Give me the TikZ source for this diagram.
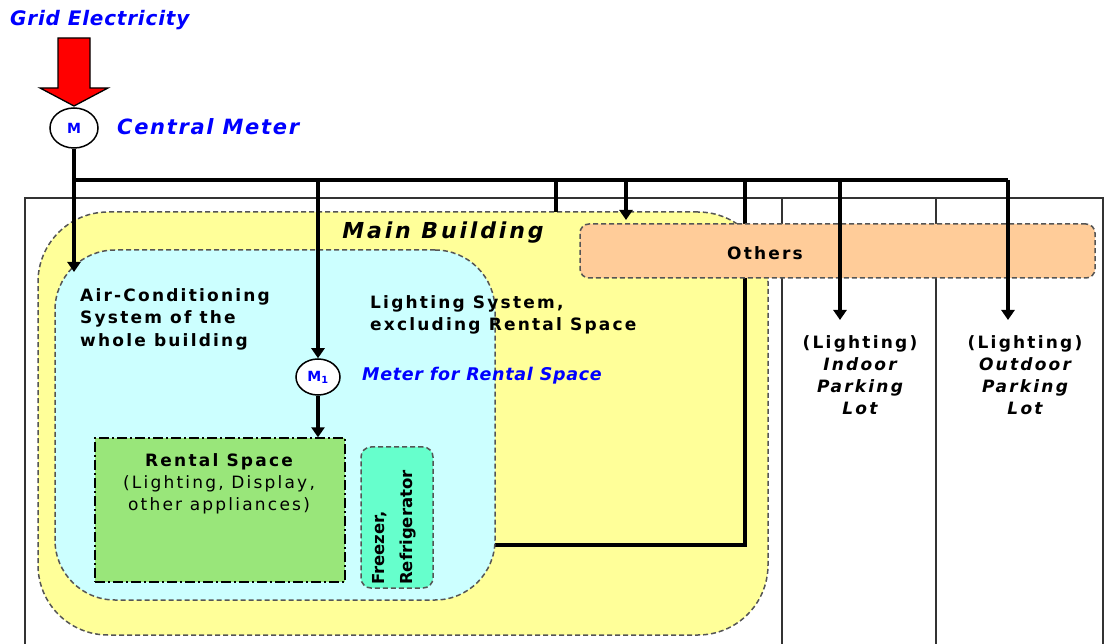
\documentclass[tikz,border=0pt]{standalone}
\usepackage{fontspec}
\setmainfont{DejaVu Sans}
\newfontfamily\wide[LetterSpace=13]{DejaVu Sans}
\newfontfamily\bluefont[LetterSpace=4]{DejaVu Sans}
\newfontfamily\bluewide[LetterSpace=8]{DejaVu Sans}
\usetikzlibrary{arrows.meta,shapes.geometric}
\definecolor{myyellow}{HTML}{FFFF99}
\definecolor{mycyan}{HTML}{CCFFFF}
\definecolor{myorange}{HTML}{FFCC99}
\definecolor{mygreen}{HTML}{99E67A}
\definecolor{myaqua}{HTML}{66FFCC}
\definecolor{dashgray}{HTML}{555555}
\definecolor{myblue}{HTML}{0000FF}
\tikzset{
  bus/.style={line width=3.2pt, black},
  busarrow/.style={bus, -{Triangle[width=13pt,length=10pt]}},
  frameline/.style={line width=1.5pt, black!80},
  region/.style={draw=dashgray, line width=1.5pt, dash pattern=on 5pt off 3pt},
  lbl/.style={font=\wide\bfseries\fontsize{17}{22.5}\selectfont, inner sep=0pt, align=left},
  lblc/.style={font=\wide\bfseries\fontsize{17}{22}\selectfont, inner sep=0pt, align=center},
  bluelbl/.style={font=\bluefont\bfseries\itshape\fontsize{20}{22}\selectfont, text=myblue, inner sep=0pt},
  meter/.style={draw, ellipse, line width=1.5pt, fill=white, inner sep=0pt,
     font=\bfseries\fontsize{14}{14}\selectfont, text=myblue}
}
\begin{document}
\begin{tikzpicture}[x=1pt,y=-1pt]
\useasboundingbox (0,0) rectangle (1104,644);
% outer frame
\coordinate (f1) at (25,650);
\coordinate (f2) at (25,198);
\coordinate (f3) at (1103,198);
\coordinate (f4) at (1103,650);
\draw[frameline] (f1) -- (f2) -- (f3) -- (f4);
\coordinate (d1t) at (782,198); \coordinate (d1b) at (782,650);
\coordinate (d2t) at (936,198); \coordinate (d2b) at (936,650);
\draw[frameline] (d1t) -- (d1b);
\draw[frameline] (d2t) -- (d2b);
% main building
\node[region, fill=myyellow, rounded corners=70pt, minimum width=730pt, minimum height=423pt] (mb) at (403,423.5) {};
\node[font=\wide\bfseries\itshape\fontsize{22}{24}\selectfont, inner sep=0pt] (mbt) at (443,233) {Main Building};
% lighting system boundary
\coordinate (j745) at (745,180);
\coordinate (l1) at (745,545);
\coordinate (l2) at (495,545);
\draw[bus] (j745) -- (l1) -- (l2);
% air conditioning region
\node[region, fill=mycyan, rounded corners=60pt, minimum width=440pt, minimum height=350pt] (ac) at (275,425) {};
\node[lbl, anchor=north west] (act) at (80,288) {Air-Conditioning\\System of the\\whole building};
\node[lbl, anchor=north west] (lst) at (370,295) {Lighting System,\\excluding Rental Space};
% others
\node[region, fill=myorange, rounded corners=9pt, minimum width=515pt, minimum height=54pt] (oth) at (837.5,251) {};
\node[lbl] (otht) at (765,253) {Others};
% rental space
\node[draw, line width=1.4pt, dash pattern=on 10pt off 3pt on 2pt off 3pt, fill=mygreen, minimum width=250pt, minimum height=144pt] (rs) at (220,510) {};
\node[lblc, anchor=north] (rst) at (219,453) {Rental Space\\{\mdseries (Lighting, Display,}\\{\mdseries other appliances)}};
% freezer
\node[region, fill=myaqua, rounded corners=10pt, minimum width=72pt, minimum height=141pt] (fz) at (397,517.5) {};
\node[font=\bfseries\fontsize{16.5}{28}\selectfont, align=left, rotate=90, inner sep=0pt, anchor=west] (fzt) at (394,585) {Freezer,\\Refrigerator};
% meters
\node[meter, minimum width=48pt, minimum height=40pt] (cm) at (74,128) {M};
\node[meter, minimum width=44pt, minimum height=36pt] (m1) at (318,377) {M\textsubscript{1}};
\node[bluelbl, anchor=west] (grid) at (10,20) {Grid Electricity};
\node[bluelbl, anchor=west, font=\bluewide\bfseries\itshape\fontsize{21}{22}\selectfont] (cmt) at (117,127) {Central Meter};
\node[bluelbl, anchor=west, font=\bluefont\bfseries\itshape\fontsize{17.5}{20}\selectfont] (m1t) at (362,376) {Meter for Rental Space};
% red arrow
\draw[fill=red, line width=1.3pt] (58,38) -- (90,38) -- (90,88) -- (108,88) -- (74,106) -- (40,88) -- (58,88) -- cycle;
% parking labels
\node[lblc, anchor=north] (ip) at (860,335) {(Lighting)\\{\itshape Indoor}\\{\itshape Parking}\\{\itshape Lot}};
\node[lblc, anchor=north] (op) at (1025,335) {(Lighting)\\{\itshape Outdoor}\\{\itshape Parking}\\{\itshape Lot}};
% bus
\coordinate (j74) at (74,180);
\coordinate (j318) at (318,180);
\coordinate (j556) at (556,180);
\coordinate (j626) at (626,180);
\coordinate (j840) at (840,180);
\coordinate (j1008) at (1008,180);
\coordinate (e556) at (556,212);
\coordinate (acin) at (74,272);
\coordinate (oin) at (626,220);
\coordinate (ipin) at (840,320);
\coordinate (opin) at (1008,320);
\draw[bus] (j74) -- (j1008);
\draw[busarrow] (cm.south) -- (acin);
\draw[busarrow] (j318) -- (m1.north);
\draw[bus] (j556) -- (e556);
\draw[busarrow] (j626) -- (oin);
\draw[busarrow] (j840) -- (ipin);
\draw[busarrow] (j1008) -- (opin);
\draw[busarrow] (m1.south) -- (rs.north -| m1.south);
\end{tikzpicture}
\end{document}
